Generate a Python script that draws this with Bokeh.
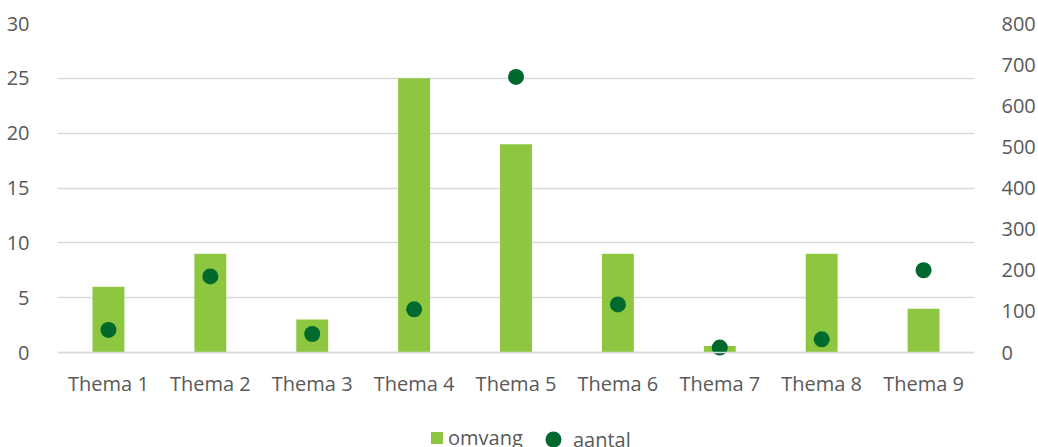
from bokeh.plotting import figure
from bokeh.models import Range1d, LinearAxis, Legend, LegendItem, FixedTicker
from bokeh.embed import file_html
from bokeh.resources import INLINE

categories = ["Thema 1", "Thema 2", "Thema 3", "Thema 4", "Thema 5",
              "Thema 6", "Thema 7", "Thema 8", "Thema 9"]
omvang = [6, 9, 3, 25, 19, 9, 0.6, 9, 4]
aantal = [55, 185, 45, 105, 670, 117, 12, 32, 200]
left_ticks = [0, 5, 10, 15, 20, 25, 30]
right_ticks = [0, 100, 200, 300, 400, 500, 600, 700, 800]

FONT = "Open Sans"
FS = "20px"
TXT = "#595959"
GRID = "#D9D9D9"
BAR = "#8DC63F"
DOT = "#006A2E"

# frame runs to the bottom edge so that the legend below the axis is drawn
LMAX, RMAX = 30, 800
below = (447 - 352) / (352 - 23)   # fraction of the value span under zero
p = figure(x_range=categories, y_range=Range1d(-LMAX * below, LMAX),
           width=1038, height=447, output_backend="svg",
           toolbar_location=None, min_border_left=57, min_border_right=61,
           min_border_top=23, min_border_bottom=0)
p.extra_y_ranges = {"right": Range1d(-RMAX * below, RMAX)}
p.outline_line_color = None

bars = p.vbar(x=categories, top=omvang, width=0.313, fill_color=BAR,
              line_color=None)
dots = p.scatter(x=categories, y=aantal, y_range_name="right", size=16,
                 fill_color=DOT, line_color=None)

p.yaxis.ticker = FixedTicker(ticks=left_ticks)
ax_r = LinearAxis(y_range_name="right", ticker=FixedTicker(ticks=right_ticks))
p.add_layout(ax_r, "right")

for ax, st in [(p.yaxis[0], 22), (ax_r, 21)]:
    ax.axis_line_color = None
    ax.major_tick_line_color = None
    ax.minor_tick_line_color = None
    ax.major_label_text_font = FONT
    ax.major_label_text_font_size = FS
    ax.major_label_text_color = TXT
    ax.major_label_standoff = st

xa = p.xaxis[0]
xa.fixed_location = 0
xa.axis_line_color = GRID
xa.axis_line_width = 1.5
xa.major_tick_line_color = None
xa.minor_tick_line_color = None
xa.major_label_text_font = FONT
xa.major_label_text_font_size = FS
xa.major_label_text_color = TXT
xa.major_label_standoff = 11

p.xgrid.grid_line_color = None
p.ygrid.grid_line_color = GRID
p.ygrid.grid_line_width = 1.5

common = dict(orientation="horizontal", label_text_font=FONT,
              label_text_font_size=FS, label_text_color=TXT,
              border_line_color=None, background_fill_alpha=0,
              margin=0, padding=0)
leg1 = Legend(items=[LegendItem(label="omvang", renderers=[bars])],
              location=(372, -4), glyph_width=15, glyph_height=15,
              label_standoff=4, **common)
leg2 = Legend(items=[LegendItem(label="aantal", renderers=[dots])],
              location=(476, -12), glyph_width=40, glyph_height=40,
              label_standoff=-7, **common)
p.add_layout(leg1, "center")
p.add_layout(leg2, "center")

open("out.html", "w").write(file_html(p, INLINE))
